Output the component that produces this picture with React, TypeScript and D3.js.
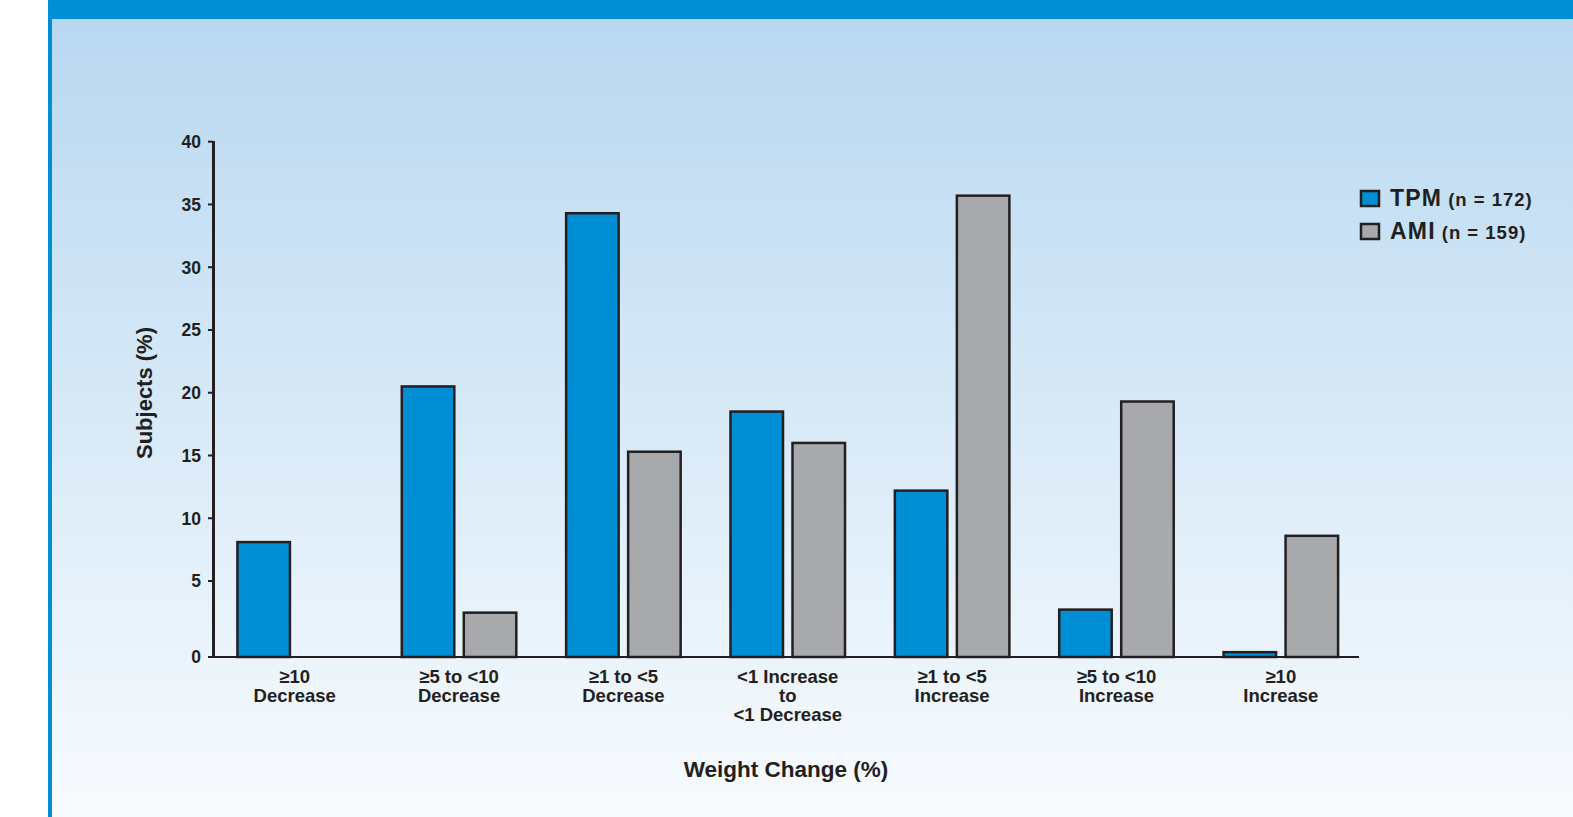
import React from "react";
import * as d3 from "d3";

const categories: string[][] = [
  ["≥10", "Decrease"],
  ["≥5 to <10", "Decrease"],
  ["≥1 to <5", "Decrease"],
  ["<1 Increase", "to", "<1 Decrease"],
  ["≥1 to <5", "Increase"],
  ["≥5 to <10", "Increase"],
  ["≥10", "Increase"],
];
const seriesNames = ["TPM", "AMI"];
const seriesN = ["(n = 172)", "(n = 159)"];
const tpmValues = [8.2, 20.6, 34.4, 18.6, 12.3, 3.2, 0.4];
const amiValues = [0, 3.0, 15.4, 16.1, 35.8, 19.4, 8.7];
const yTicks = [0, 5, 10, 15, 20, 25, 30, 35, 40];

const W = 1573;
const H = 817;
const FONT = "'Liberation Sans', Arial, Helvetica, sans-serif";
const colors = ["#008fd5", "#a7a9ac"];
const ink = "#231f20";

export default function App() {
  const x0 = 212.5;
  const x1 = 1363;
  const baseY = 657;
  const y = d3.scaleLinear().domain([0, 5, 40]).range([baseY, 581, 141.7]);
  const xb = d3
    .scaleBand<number>()
    .domain(categories.map((_, i) => i))
    .range([x0, x1])
    .paddingInner(0.288)
    .paddingOuter(0.144);
  const xs = d3
    .scaleBand<string>()
    .domain(seriesNames)
    .range([0, xb.bandwidth()])
    .paddingInner(0.113);
  const values = [tpmValues, amiValues];
  const sw = 2.5;

  return (
    <svg
      width={W}
      height={H}
      style={{ position: "absolute", left: 0, top: 0, display: "block" }}
      fontFamily={FONT}
    >
      <defs>
        <linearGradient id="bg" x1="0" y1="0" x2="0" y2="1">
          <stop offset="0" stopColor="#b7d7f0" />
          <stop offset="1" stopColor="#f8fbfe" />
        </linearGradient>
      </defs>
      <rect x={0} y={0} width={W} height={H} fill="#fff" />
      <rect x={48} y={0} width={W - 48} height={H} fill="url(#bg)" />
      <rect x={48} y={0} width={W - 48} height={19} fill="#008fd5" />
      <rect x={48} y={0} width={4} height={H} fill="#008fd5" />

      {/* bars */}
      {values.map((vals, si) =>
        vals.map((v, ci) => {
          if (v <= 0) return null;
          const bx = (xb(ci) as number) + (xs(seriesNames[si]) as number);
          const top = y(v);
          return (
            <rect
              key={`${si}-${ci}`}
              x={bx + sw / 2}
              y={top + sw / 2}
              width={xs.bandwidth() - sw}
              height={baseY - top - sw / 2}
              fill={colors[si]}
              stroke={ink}
              strokeWidth={sw}
            />
          );
        })
      )}

      {/* y axis */}
      <line x1={213.5} x2={213.5} y1={141} y2={baseY} stroke={ink} strokeWidth={3} />
      {yTicks.map((t) => (
        <g key={t}>
          <line x1={208} x2={213} y1={y(t)} y2={y(t)} stroke={ink} strokeWidth={2} />
          <text
            x={201}
            y={y(t)}
            dy="0.36em"
            textAnchor="end"
            fontSize={17.5}
            fontWeight="bold"
            fill={ink}
          >
            {t}
          </text>
        </g>
      ))}
      {/* x axis */}
      <line x1={208} x2={1359} y1={baseY} y2={baseY} stroke={ink} strokeWidth={2} />

      {/* category labels */}
      {categories.map((lines, ci) => {
        const cx = (xb(ci) as number) + xb.bandwidth() / 2;
        return (
          <text
            key={ci}
            x={cx}
            textAnchor="middle"
            fontSize={18.5}
            fontWeight="bold"
            fill={ink}
          >
            {lines.map((l, li) => (
              <tspan key={li} x={cx} y={683 + li * 19}>
                {l}
              </tspan>
            ))}
          </text>
        );
      })}

      {/* axis titles */}
      <text
        x={786}
        y={777}
        textAnchor="middle"
        fontSize={22.5}
        fontWeight="bold"
        fill={ink}
      >
        Weight Change (%)
      </text>
      <text
        transform={`translate(152,393) rotate(-90)`}
        textAnchor="middle"
        fontSize={22}
        fontWeight="bold"
        fill={ink}
      >
        Subjects (%)
      </text>

      {/* legend */}
      {seriesNames.map((s, i) => (
        <g key={s} transform={`translate(1360,${190 + i * 33})`}>
          <rect x={1} y={1} width={18} height={15} fill={colors[i]} stroke={ink} strokeWidth={2.5} />
          <text x={30} y={15.5} fontSize={23} fontWeight="bold" fill={ink} letterSpacing={1.2}>
            {s}
            <tspan fontSize={18.5} dx={6} letterSpacing={1}>
              {seriesN[i]}
            </tspan>
          </text>
        </g>
      ))}
    </svg>
  );
}
